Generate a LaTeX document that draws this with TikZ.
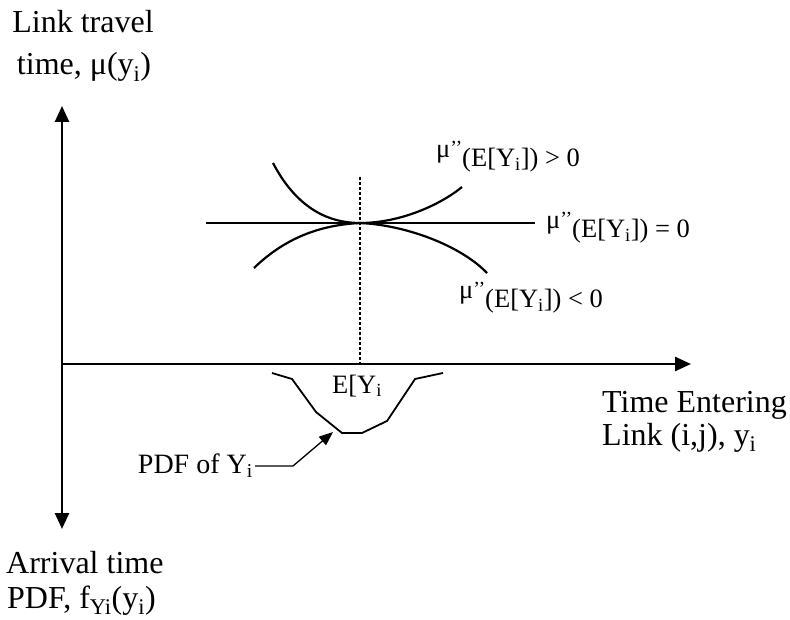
\documentclass[tikz,border=0pt]{standalone}
\usepackage{fontspec}
\setmainfont{Liberation Serif}
\usetikzlibrary{arrows.meta}
\newcommand\mupp{\raisebox{9pt}{μ}\raisebox{12pt}{\fontsize{20}{20}\selectfont ’’}}
\begin{document}
\begin{tikzpicture}[x=1pt,y=-1pt,
  axis/.style={line width=2.6pt},
  curve/.style={line width=2.2pt},
  big/.style={font=\fontsize{32}{36}\selectfont, inner sep=0pt},
  lab/.style={font=\fontsize{26.5}{30}\selectfont, inner sep=0pt, anchor=base west},
]
\useasboundingbox (0,0) rectangle (790,620);
% axes
\coordinate (o) at (62,364);
\coordinate (ytop) at (62,106);
\coordinate (ybot) at (62,529);
\coordinate (xend) at (691,364);
\draw[axis,{Triangle[length=16pt,width=14pt]}-{Triangle[length=16pt,width=14pt]}] (ytop) -- (ybot);
\draw[axis,-{Triangle[length=16pt,width=14pt]}] (o) -- (xend);
% dotted mean line
\coordinate (etop) at (360,177);
\coordinate (ebot) at (360,364);
\draw[line width=1.3pt, dash pattern=on 3pt off 2pt] (etop) -- (ebot);
% flat line and curves
\coordinate (tp) at (360,223);
\coordinate (fl) at (206,223);
\coordinate (fr) at (535,223);
\draw[curve] (fl) -- (fr);
\coordinate (ul) at (273,163);
\coordinate (ur) at (462,187);
\coordinate (ll) at (254,268);
\coordinate (lr) at (487,273);
\draw[curve] (ul) .. controls (295,205) and (325,223) .. (tp) .. controls (400,223) and (440,205) .. (ur);
\draw[curve] (ll) .. controls (285,238) and (320,225) .. (tp) .. controls (405,225) and (460,245) .. (lr);
% PDF curve
\draw[line width=1.8pt] (272,373) -- (292,379) -- (316,412) -- (342,433) -- (362,433) -- (387,421) -- (415,379) -- (443,373);
% PDF label and arrow
\node[lab, font=\fontsize{28}{32}\selectfont, anchor=base east] (pdftxt) at (253,473) {PDF of Y\textsubscript{i}};
\coordinate (pa) at (255,466);
\coordinate (pb) at (293,466);
\coordinate (pc) at (333,432);
\draw[line width=1.3pt, -{Triangle[length=14pt,width=11pt]}] (pa) -- (pb) -- (pc);
% axis labels
\node[big, anchor=base] (yl1) at (83,33) {Link travel};
\node[big, anchor=base] (yl2) at (84,75) {time, μ(y\textsubscript{i})};
\node[big, anchor=base west] (xl1) at (602,412) {Time Entering};
\node[big, anchor=base west] (xl2) at (602,445) {Link (i,j), y\textsubscript{i}};
\node[big, anchor=base west] (pl1) at (6,573) {Arrival time};
\node[big, anchor=base west] (pl2) at (7,608) {PDF, f\textsubscript{Yi}(y\textsubscript{i})};
\node[lab] (ey) at (332,393) {E[Y\textsubscript{i}};
% curvature labels
\node[lab] (m1) at (436,167) {\mupp(E[Y\textsubscript{i}]) > 0};
\node[lab] (m2) at (546,238) {\mupp(E[Y\textsubscript{i}]) = 0};
\node[lab] (m3) at (459,308) {\mupp(E[Y\textsubscript{i}]) < 0};
\end{tikzpicture}
\end{document}
